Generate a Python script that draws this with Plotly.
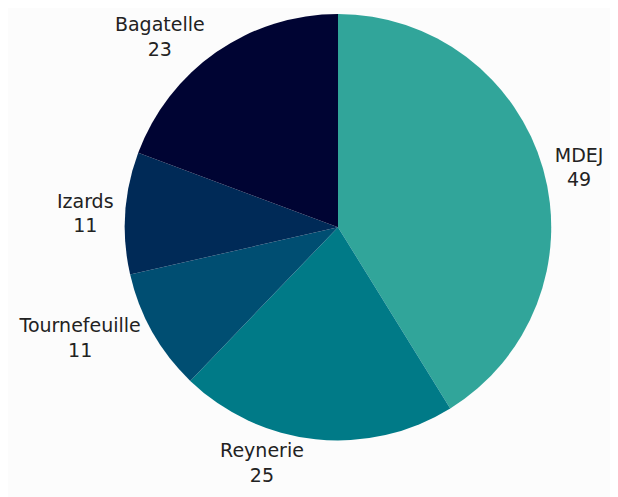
import plotly.graph_objects as go

labels = ["MDEJ", "Reynerie", "Tournefeuille", "Izards", "Bagatelle"]
values = [49, 25, 11, 11, 23]
colors = ["#31a59a", "#007a87", "#004e72", "#002a57", "#000433"]

fig = go.Figure(go.Pie(
    labels=labels,
    values=values,
    sort=False,
    direction="clockwise",
    rotation=0,
    marker=dict(colors=colors, line=dict(width=0)),
    textposition="outside",
    texttemplate="%{label}<br>%{value}",
    textfont=dict(family="DejaVu Sans", size=19, color="#222222"),
    showlegend=False,
    hoverinfo="label+value",
    domain=dict(x=[0.189, 0.879], y=[0.130, 0.988]),
))

fig.update_layout(
    width=618, height=497,
    margin=dict(l=0, r=0, t=0, b=0),
    paper_bgcolor="#fcfcfc",
    plot_bgcolor="#fcfcfc",
)

fig.write_html("out.html")
